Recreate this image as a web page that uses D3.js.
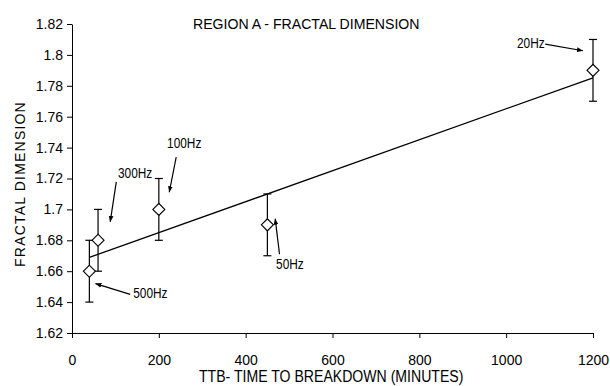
<!DOCTYPE html>
<html>
<head>
<meta charset="utf-8">
<script src="https://cdn.jsdelivr.net/npm/d3@7"></script>
<style>
    body { margin: 0; background: #fff; }
    svg { display: block; }
    .tick text { font-family: "Liberation Sans", Arial, sans-serif; font-size: 14px; fill: #000; }
    .narrow { font-family: "Liberation Sans", Arial, sans-serif; fill: #000; }
</style>
</head>
<body>
<svg id="chart"></svg>
<script>
// data
var ttb = [40, 60, 200, 450, 1200];           // minutes
var fractalDim = [1.66, 1.68, 1.70, 1.69, 1.79];
var errBar = [0.02, 0.02, 0.02, 0.02, 0.02];
var freqLabels = ["500Hz", "300Hz", "100Hz", "50Hz", "20Hz"];

var xTicks = [0, 200, 400, 600, 800, 1000, 1200];
var yTicks = [1.62, 1.64, 1.66, 1.68, 1.7, 1.72, 1.74, 1.76, 1.78, 1.8, 1.82];

// annotation text anchors and arrows, in data units
var labelX = [141, 106, 219, 470, 1025];
var labelY = [1.6459, 1.7236, 1.7429, 1.6645, 1.8079];
var arrowFrom = [[134, 1.645], [102, 1.7178], [240, 1.7338], [478, 1.671], [1090, 1.807]];
var arrowTo = [[54, 1.652], [88, 1.6919], [224, 1.7111], [468, 1.694], [1177, 1.8027]];

var W = 610, H = 386;
var margin = { top: 24, right: 17, bottom: 53, left: 72 };
var width = W - margin.left - margin.right;
var height = H - margin.top - margin.bottom;

var svg = d3.select("#chart").attr("width", W).attr("height", H);

var xScale = d3.scaleLinear().domain([0, 1200]).range([0, width]);
var yScale = d3.scaleLinear().domain([1.62, 1.82]).range([height, 0]);

// squeeze text horizontally, the original uses a narrow face
function narrow(sel, k) {
    sel.each(function () {
        var len = this.getComputedTextLength();
        d3.select(this).attr("textLength", len * k).attr("lengthAdjust", "spacingAndGlyphs");
    });
}

var g = svg.append("g").attr("transform", "translate(" + margin.left + "," + margin.top + ")");

// axes
g.append("g")
    .attr("transform", "translate(0," + height + ")")
    .call(d3.axisBottom(xScale).tickValues(xTicks).tickSize(5).tickPadding(17).tickSizeOuter(0)
        .tickFormat(d3.format("d")));
g.append("g")
    .call(d3.axisLeft(yScale).tickValues(yTicks).tickSize(5).tickPadding(4).tickSizeOuter(0)
        .tickFormat(function (d) { return String(+d.toFixed(2)); }));
svg.selectAll(".domain, .tick line").attr("stroke", "#000").attr("stroke-width", 1);

// trend line (least squares through the points)
var mx = d3.mean(ttb), my = d3.mean(fractalDim);
var sxy = d3.sum(ttb, function (x, i) { return (x - mx) * (fractalDim[i] - my); });
var sxx = d3.sum(ttb, function (x) { return (x - mx) * (x - mx); });
var slope = sxy / sxx, icpt = my - slope * mx;
var xr = d3.extent(ttb);
g.append("line")
    .attr("x1", xScale(xr[0])).attr("y1", yScale(icpt + slope * xr[0]))
    .attr("x2", xScale(xr[1])).attr("y2", yScale(icpt + slope * xr[1]))
    .attr("stroke", "#000").attr("stroke-width", 1.3);

// error bars
var eb = g.selectAll(".eb").data(ttb).enter().append("g").attr("class", "eb");
eb.append("line")
    .attr("x1", function (d) { return xScale(d); }).attr("x2", function (d) { return xScale(d); })
    .attr("y1", function (d, i) { return yScale(fractalDim[i] - errBar[i]); })
    .attr("y2", function (d, i) { return yScale(fractalDim[i] + errBar[i]); });
[-1, 1].forEach(function (s) {
    eb.append("line")
        .attr("x1", function (d) { return xScale(d) - 4; }).attr("x2", function (d) { return xScale(d) + 4; })
        .attr("y1", function (d, i) { return yScale(fractalDim[i] + s * errBar[i]); })
        .attr("y2", function (d, i) { return yScale(fractalDim[i] + s * errBar[i]); });
});
eb.selectAll("line").attr("stroke", "#000").attr("stroke-width", 1.2);

// diamond markers
g.selectAll(".pt").data(ttb).enter().append("path")
    .attr("class", "pt")
    .attr("d", d3.symbol().type(d3.symbolSquare).size(72))
    .attr("transform", function (d, i) { return "translate(" + xScale(d) + "," + yScale(fractalDim[i]) + ") rotate(45)"; })
    .attr("fill", "#fff").attr("stroke", "#000").attr("stroke-width", 1.1);

// arrow marker
svg.append("defs").append("marker")
    .attr("id", "arr").attr("viewBox", "0 0 10 10")
    .attr("refX", 10).attr("refY", 5)
    .attr("markerWidth", 6).attr("markerHeight", 6)
    .attr("markerUnits", "userSpaceOnUse")
    .attr("orient", "auto")
    .append("path").attr("d", "M0,1L10,5L0,9Z").attr("fill", "#000");

g.selectAll(".arrow").data(arrowFrom).enter().append("line")
    .attr("class", "arrow")
    .attr("x1", function (d) { return xScale(d[0]); }).attr("y1", function (d) { return yScale(d[1]); })
    .attr("x2", function (d, i) { return xScale(arrowTo[i][0]); }).attr("y2", function (d, i) { return yScale(arrowTo[i][1]); })
    .attr("stroke", "#000").attr("stroke-width", 1.2)
    .attr("marker-end", "url(#arr)");

g.selectAll(".flab").data(freqLabels).enter().append("text")
    .attr("class", "flab narrow")
    .attr("x", function (d, i) { return xScale(labelX[i]); })
    .attr("y", function (d, i) { return yScale(labelY[i]); })
    .attr("dy", "0.35em")
    .attr("font-size", "15px")
    .text(function (d) { return d; })
    .call(narrow, 0.79);

// title
svg.append("text")
    .attr("class", "narrow")
    .attr("x", 193).attr("y", 29)
    .attr("font-size", "15.5px")
    .text("REGION A - FRACTAL DIMENSION")
    .call(narrow, 0.91);

// x label
svg.append("text")
    .attr("class", "narrow")
    .attr("x", 199).attr("y", 382)
    .attr("font-size", "16px")
    .text("TTB- TIME TO BREAKDOWN (MINUTES)")
    .call(narrow, 0.88);

// y label
svg.append("text")
    .attr("transform", "translate(25,184) rotate(-90)")
    .attr("text-anchor", "middle")
    .attr("font-family", "'Liberation Sans', Arial, sans-serif")
    .attr("font-size", "14px")
    .attr("letter-spacing", "1.2px")
    .text("FRACTAL DIMENSION");
</script>
</body>
</html>
